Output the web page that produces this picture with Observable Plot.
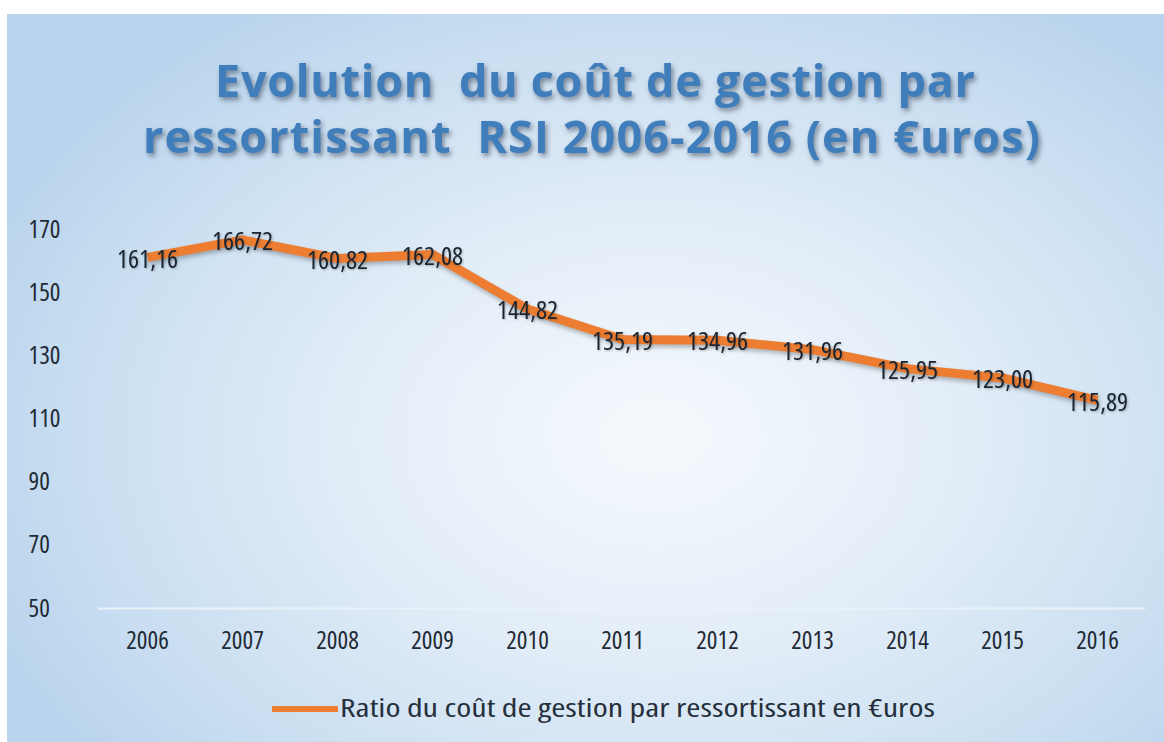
<!DOCTYPE html>
<html>
<head>
<meta charset="utf-8">
<script src="https://cdn.jsdelivr.net/npm/d3@7"></script>
<script src="https://cdn.jsdelivr.net/npm/@observablehq/plot@0.6"></script>
<style>
  html, body { margin: 0; padding: 0; background: #fff; }
  #wrap { position: relative; width: 1164px; height: 742px; overflow: hidden; background: #fff; font-family: "Open Sans", sans-serif; }
  #bg { position: absolute; left: 7px; top: 14px; width: 1157px; height: 728px;
        background: radial-gradient(ellipse 62% 70% at 56% 58%, #f5f9fd 0%, #e4eef8 40%, #c9def1 80%, #bad4ed 100%); }
  #title { position: absolute; left: 0; top: 0; }
  #title text { white-space: pre; font-stretch: 93%; }
  #chart { position: absolute; left: 0; top: 200px; }
  #chart text { font-stretch: 87.5%; font-weight: 500; }
  #legend { position: absolute; left: 0; top: 685px; }
  #legend text { font-stretch: 75%; }
  .shadow { filter: drop-shadow(2px 3px 2.5px rgba(30,40,60,0.5)); }
</style>
</head>
<body>
<div id="wrap">
  <div id="bg"></div>
  <svg id="title" width="1164" height="190" xmlns="http://www.w3.org/2000/svg">
    <g class="shadow" fill="#3f7dbb" font-family="Open Sans, sans-serif" font-weight="700" font-size="45">
      <text id="t1" x="215" y="97" textLength="760" lengthAdjust="spacing" xml:space="preserve"></text>
      <text id="t2" x="143" y="153" textLength="897" lengthAdjust="spacing" xml:space="preserve"></text>
    </g>
  </svg>
  <div id="chart"></div>
  <svg id="legend" width="1164" height="50" xmlns="http://www.w3.org/2000/svg">
    <line x1="272" x2="338" y1="24" y2="24" stroke="#ed7d31" stroke-width="6"></line>
    <text id="legtext" x="340" y="32" font-family="Open Sans, sans-serif" font-size="26" fill="#26303c" textLength="595" lengthAdjust="spacingAndGlyphs"></text>
  </svg>
</div>
<script>
const titleLines = ["Evolution  du coût de gestion par", "ressortissant  RSI 2006-2016 (en €uros)"];
const legendLabel = "Ratio du coût de gestion par ressortissant en €uros";
const years = ["2006","2007","2008","2009","2010","2011","2012","2013","2014","2015","2016"];
const values = [161.16, 166.72, 160.82, 162.08, 144.82, 135.19, 134.96, 131.96, 125.95, 123.00, 115.89];
const valueLabels = ["161,16","166,72","160,82","162,08","144,82","135,19","134,96","131,96","125,95","123,00","115,89"];
const yTicks = [50, 70, 90, 110, 130, 150, 170];

document.getElementById("t1").textContent = titleLines[0];
document.getElementById("t2").textContent = titleLines[1];
document.getElementById("legtext").textContent = legendLabel;

const data = years.map((y, i) => ({year: y, value: values[i], label: valueLabels[i]}));

const chart = Plot.plot({
  width: 1164,
  height: 468,
  marginLeft: 98,
  marginRight: 19,
  marginTop: 29,
  marginBottom: 60,
  style: {background: "transparent", fontFamily: "Open Sans, sans-serif", color: "#26303c", overflow: "visible"},
  x: {type: "point", domain: years, padding: 0.5, label: null},
  y: {domain: [50, 170], label: null},
  marks: [
    Plot.ruleY([50], {stroke: "#e9f1f9", strokeWidth: 2}),
    Plot.axisY(yTicks, {tickSize: 0, tickPadding: 70, textAnchor: "start", fontSize: 25, fill: "#222a35"}),
    Plot.axisX({tickSize: 0, tickPadding: 23, fontSize: 25, fill: "#222a35"}),
    Plot.line(data, {x: "year", y: "value", stroke: "#ed7d31", strokeWidth: 9, strokeLinejoin: "round", strokeLinecap: "butt"}),
    Plot.text(data, {x: "year", y: "value", text: "label", fill: "#1a2430", fontSize: 26, dy: 2})
  ]
});
document.getElementById("chart").appendChild(chart);
d3.select(chart).selectAll("g[aria-label='line'] path").style("filter", "drop-shadow(1px 3px 2px rgba(60,60,60,0.35))");
d3.select(chart).selectAll("g[aria-label='text'] text").style("filter", "drop-shadow(1px 1px 1px rgba(40,40,40,0.3))");
</script>
</body>
</html>
